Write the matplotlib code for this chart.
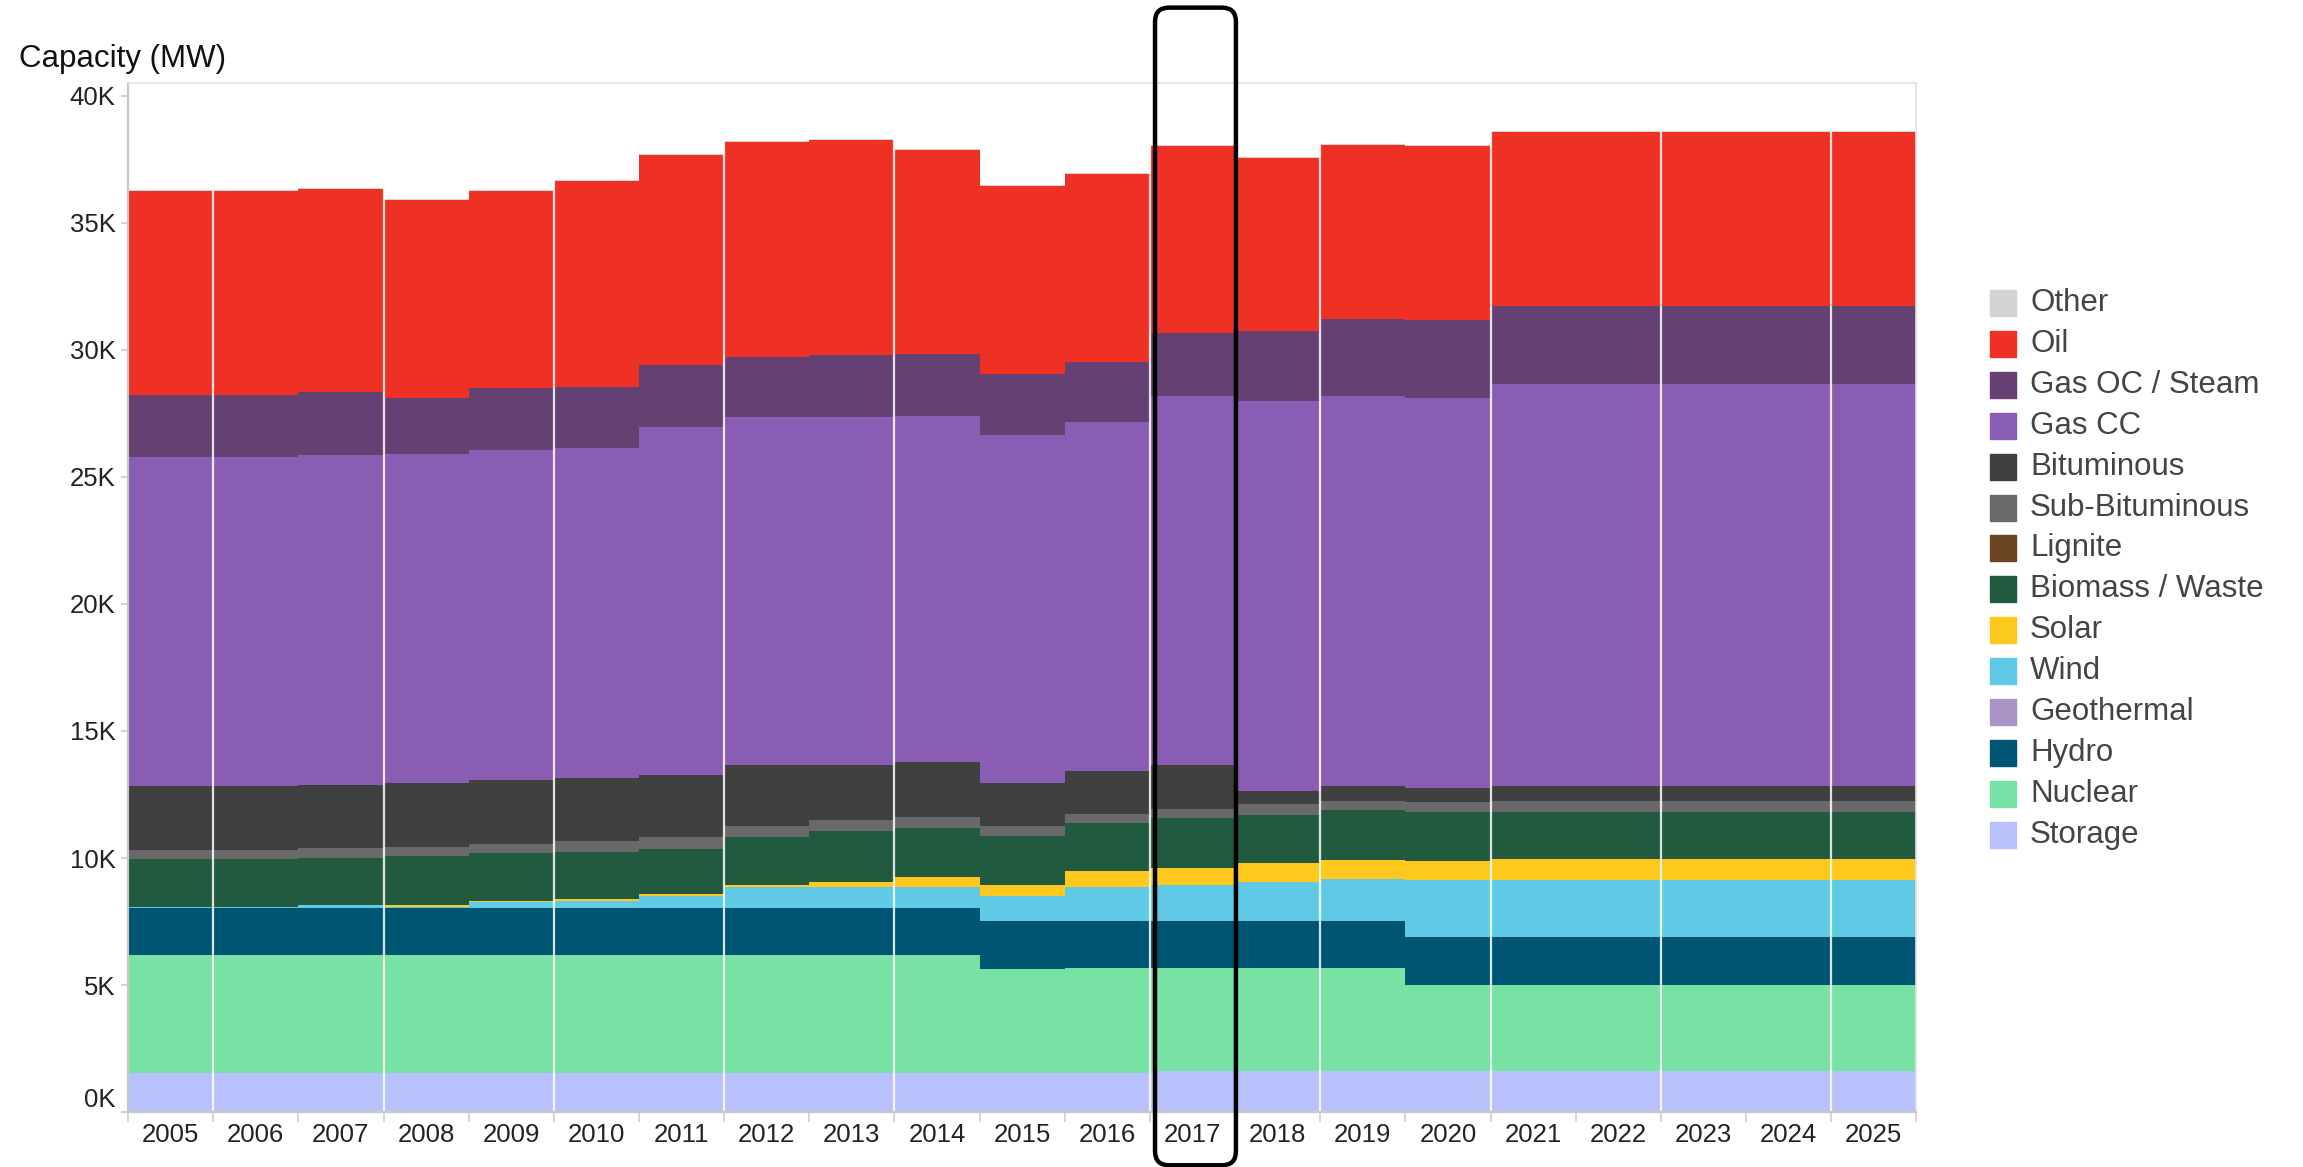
import numpy as np
import matplotlib
matplotlib.use("Agg")
import matplotlib.pyplot as plt
from matplotlib.patches import Rectangle, FancyBboxPatch
from matplotlib.transforms import IdentityTransform

plt.rcParams['font.family'] = ['Liberation Sans', 'DejaVu Sans']

years = [2005, 2006, 2007, 2008, 2009, 2010, 2011, 2012, 2013, 2014, 2015,
         2016, 2017, 2018, 2019, 2020, 2021, 2022, 2023, 2024, 2025]

# capacity by fuel type, MW (bottom of the stack first)
storage = [1550, 1550, 1550, 1550, 1550, 1550, 1550, 1550, 1550, 1550, 1550,
           1550, 1610, 1610, 1610, 1610, 1610, 1610, 1610, 1610, 1610]
nuclear = [4630, 4630, 4630, 4630, 4630, 4630, 4630, 4630, 4630, 4630, 4080,
           4130, 4070, 4070, 4070, 3390, 3390, 3390, 3390, 3390, 3390]
hydro = [1850, 1850, 1850, 1850, 1850, 1850, 1850, 1850, 1850, 1850, 1880,
         1830, 1830, 1830, 1830, 1880, 1880, 1880, 1880, 1880, 1880]
geothermal = [0, 0, 0, 0, 0, 0, 0, 0, 0, 0, 0,
              0, 0, 0, 0, 0, 0, 0, 0, 0, 0]
wind = [50, 50, 110, 60, 220, 290, 470, 840, 840, 840, 990,
        1360, 1430, 1560, 1680, 2240, 2240, 2240, 2240, 2240, 2240]
solar = [0, 0, 0, 50, 70, 50, 70, 70, 200, 380, 440,
         630, 680, 750, 740, 760, 830, 830, 830, 830, 830]
biomass = [1870, 1870, 1870, 1930, 1870, 1880, 1800, 1870, 1990, 1940, 1940,
           1870, 1940, 1870, 1950, 1930, 1870, 1870, 1870, 1870, 1870]
lignite = [0, 0, 0, 0, 0, 0, 0, 0, 0, 0, 0,
           0, 0, 0, 0, 0, 0, 0, 0, 0, 0]
sub_bituminous = [360, 360, 370, 380, 370, 430, 440, 440, 450, 440, 370,
                  380, 380, 440, 380, 380, 440, 440, 440, 440, 440]
bituminous = [2510, 2510, 2510, 2490, 2510, 2460, 2460, 2390, 2130, 2140, 1690,
              1690, 1700, 510, 560, 570, 560, 560, 560, 560, 560]
gas_cc = [12950, 12950, 12950, 12970, 12970, 13010, 13700, 13700, 13700, 13630, 13710,
          13710, 14520, 15330, 15340, 15340, 15840, 15840, 15840, 15840, 15840]
gas_oc = [2460, 2460, 2510, 2190, 2440, 2390, 2440, 2380, 2440, 2440, 2390,
          2380, 2500, 2760, 3060, 3070, 3070, 3070, 3070, 3070, 3070]
oil = [8020, 8020, 7960, 7780, 7770, 8090, 8270, 8460, 8460, 8030, 7390,
       7400, 7340, 6830, 6850, 6830, 6840, 6840, 6840, 6840, 6840]
other = [40, 40, 40, 40, 40, 40, 40, 40, 40, 40, 40,
         40, 40, 40, 40, 40, 40, 40, 40, 40, 40]

fuels = ["Storage", "Nuclear", "Hydro", "Geothermal", "Wind", "Solar",
         "Biomass / Waste", "Lignite", "Sub-Bituminous", "Bituminous",
         "Gas CC", "Gas OC / Steam", "Oil", "Other"]
series = [storage, nuclear, hydro, geothermal, wind, solar, biomass, lignite,
          sub_bituminous, bituminous, gas_cc, gas_oc, oil, other]
colors = ["#b8c1fb", "#78e2a4", "#005573", "#a994c8", "#60c9e6", "#ffc81e",
          "#225a40", "#6b4423", "#696969", "#404040", "#895db3", "#654073",
          "#ee3124", "#d4d4d4"]

# white separators drawn by the source tool
grid_years = [2005.5, 2007.5, 2009.5, 2011.5, 2013.5, 2016.5, 2018.5, 2020.5, 2022.5, 2024.5]

fig = plt.figure(figsize=(23.03, 11.67), dpi=100)
ax = fig.add_axes([0.0556, 0.047, 0.7765, 0.882])

edges = np.append(np.array(years) - 0.5, years[-1] + 0.5)
bottom = np.zeros(len(years))
for name, vals, c in zip(fuels, series, colors):
    top = bottom + np.array(vals)
    ax.stairs(top, edges, baseline=bottom, fill=True, color=c, linewidth=0)
    bottom = top

for g in grid_years:
    ax.axvline(g, color="white", lw=1.6, alpha=0.85)

ax.set_xlim(edges[0], edges[-1])
ax.set_ylim(0, 40500)
ax.set_yticks([0, 5000, 10000, 15000, 20000, 25000, 30000, 35000, 40000])
ax.set_yticklabels(["0K", "5K", "10K", "15K", "20K", "25K", "30K", "35K", "40K"])
ax.set_xticks(years)
ax.set_xticklabels([str(y) for y in years])
ax.set_xticks(edges, minor=True)
ax.tick_params(axis="x", which="major", length=0, pad=8, labelsize=18.5, labelcolor="#222222")
ax.tick_params(axis="x", which="minor", length=7, width=1.2, color="#d0d0d0")
ax.tick_params(axis="y", length=5, width=1.2, color="#c8c8c8", pad=4, labelsize=18.5,
               labelcolor="#222222")
ax.get_yticklabels()[0].set_verticalalignment("bottom")
for s in ["top", "right"]:
    ax.spines[s].set_color("#e2e2e2")
    ax.spines[s].set_linewidth(1.2)
for s in ["left", "bottom"]:
    ax.spines[s].set_color("#c8c8c8")
    ax.spines[s].set_linewidth(1.5)

fig.text(19 / 2303, 1 - 59 / 1167, "Capacity (MW)", fontsize=22.5, va="center",
         ha="left", color="#111111")

# legend (top of stack first)
sw = 26 / 2303
sh = 26 / 1167
for i, (name, c) in enumerate(zip(fuels[::-1], colors[::-1])):
    yc = 1 - (303 + i * 40.9) / 1167
    fig.patches.append(Rectangle((1990 / 2303, yc - sh / 2), sw, sh, color=c,
                                 transform=fig.transFigure, figure=fig))
    fig.text(2030 / 2303, yc, name, fontsize=22.5, va="center", ha="left",
             color="#444444")

# highlight box around 2017
fig.canvas.draw()
x0, y0 = ax.transData.transform((2016.56, -2090))
x1, y1 = ax.transData.transform((2017.51, 43460))
box = FancyBboxPatch((x0, y0), x1 - x0, y1 - y0,
                     boxstyle="round,pad=0,rounding_size=14",
                     fill=False, ec="black", lw=3.2, transform=IdentityTransform())
fig.add_artist(box)

fig.savefig("out.png", dpi=100)
